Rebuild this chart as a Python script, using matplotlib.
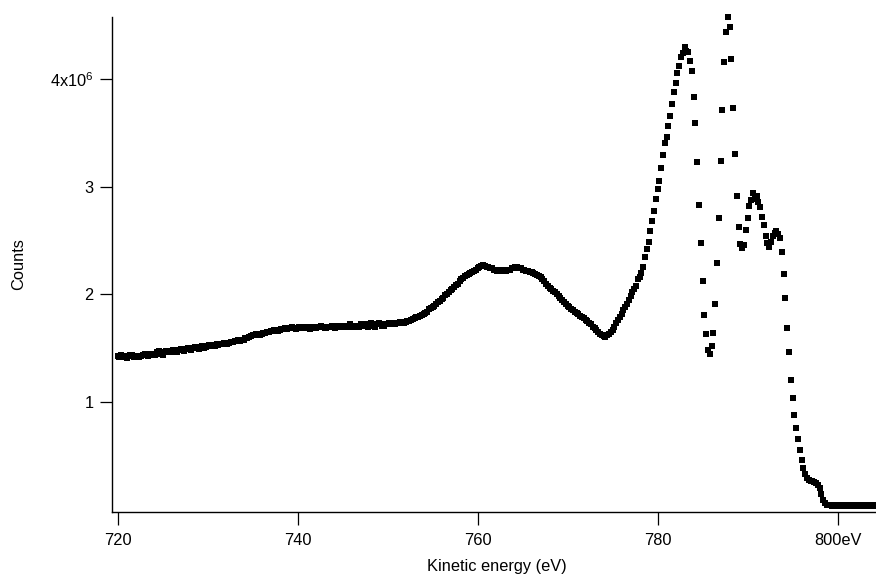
import numpy as np
import matplotlib
matplotlib.use('Agg')
import matplotlib.pyplot as plt

plt.rcParams['font.family'] = ['Liberation Sans', 'DejaVu Sans']
plt.rcParams['mathtext.fontset'] = 'custom'
plt.rcParams['mathtext.rm'] = 'Liberation Sans'
plt.rcParams['mathtext.default'] = 'regular'

# spectrum sampled every 0.2 eV from 720.0 eV, counts in units of 1e6
e_start = 720.0
e_step = 0.2

# 720.0 .. 776.4 eV : broad background and the 760 eV hump
counts_lo = [
    1.43, 1.42, 1.44, 1.43, 1.42, 1.41, 1.43, 1.44, 1.44, 1.42, 1.43, 1.42, 1.42, 1.43, 1.44, 1.45, 1.45, 1.43, 1.44, 1.45,
    1.45, 1.44, 1.46, 1.47, 1.45, 1.44, 1.46, 1.47, 1.47, 1.46, 1.46, 1.48, 1.47, 1.46, 1.48, 1.49, 1.48, 1.47, 1.49, 1.50,
    1.49, 1.48, 1.50, 1.51, 1.50, 1.49, 1.51, 1.52, 1.50, 1.51, 1.52, 1.53, 1.53, 1.52, 1.52, 1.54, 1.53, 1.54, 1.54, 1.55,
    1.55, 1.54, 1.55, 1.56, 1.56, 1.57, 1.57, 1.58, 1.57, 1.58, 1.58, 1.59, 1.59, 1.60, 1.61, 1.62, 1.62, 1.63, 1.63, 1.62,
    1.63, 1.64, 1.64, 1.65, 1.65, 1.66, 1.66, 1.67, 1.67, 1.66, 1.67, 1.68, 1.68, 1.69, 1.68, 1.69, 1.69, 1.70, 1.69, 1.68,
    1.69, 1.70, 1.70, 1.69, 1.69, 1.70, 1.69, 1.68, 1.70, 1.70, 1.69, 1.70, 1.70, 1.71, 1.70, 1.69, 1.69, 1.70, 1.70, 1.71,
    1.70, 1.69, 1.71, 1.70, 1.70, 1.71, 1.70, 1.70, 1.71, 1.72, 1.70, 1.71, 1.71, 1.70, 1.70, 1.72, 1.71, 1.72, 1.71, 1.70,
    1.72, 1.73, 1.71, 1.70, 1.72, 1.73, 1.72, 1.71, 1.71, 1.72, 1.72, 1.73, 1.73, 1.72, 1.72, 1.73, 1.73, 1.74, 1.74, 1.73,
    1.74, 1.75, 1.75, 1.76, 1.77, 1.78, 1.79, 1.79, 1.80, 1.81, 1.82, 1.83, 1.84, 1.86, 1.87, 1.88, 1.89, 1.91, 1.93, 1.94,
    1.96, 1.97, 1.99, 2.00, 2.02, 2.04, 2.05, 2.07, 2.09, 2.10, 2.12, 2.14, 2.15, 2.17, 2.18, 2.19, 2.20, 2.21, 2.22, 2.23,
    2.24, 2.25, 2.26, 2.27, 2.26, 2.25, 2.25, 2.24, 2.24, 2.23, 2.23, 2.22, 2.22, 2.23, 2.23, 2.22, 2.22, 2.23, 2.23, 2.24,
    2.24, 2.25, 2.25, 2.24, 2.24, 2.23, 2.23, 2.22, 2.22, 2.21, 2.21, 2.20, 2.19, 2.18, 2.17, 2.16, 2.14, 2.12, 2.10, 2.08,
    2.06, 2.05, 2.03, 2.02, 2.00, 1.98, 1.97, 1.95, 1.93, 1.91, 1.89, 1.88, 1.86, 1.85, 1.84, 1.83, 1.82, 1.80, 1.79, 1.78,
    1.76, 1.75, 1.73, 1.72, 1.70, 1.69, 1.67, 1.65, 1.63, 1.62, 1.61, 1.60, 1.62, 1.63, 1.65, 1.67, 1.70, 1.73, 1.76, 1.79,
    1.82, 1.85, 1.88,
]

# 776.6 .. 804.2 eV : main peaks and the cut-off
counts_hi = [
    1.91, 1.95,
    1.98, 2.02, 2.05, 2.08, 2.14, 2.16, 2.20, 2.25, 2.35, 2.42,
    2.49, 2.59, 2.68, 2.77, 2.89, 2.98, 3.05, 3.17, 3.29, 3.41,
    3.46, 3.56, 3.66, 3.77, 3.88, 3.96, 4.06, 4.12, 4.20, 4.24,
    4.30, 4.26, 4.25, 4.17, 4.07, 3.83, 3.59, 3.23, 2.83, 2.48,
    2.12, 1.81, 1.63, 1.48, 1.45, 1.52, 1.64, 1.91, 2.29, 2.71,
    3.24, 3.71, 4.16, 4.44, 4.58, 4.48, 4.19, 3.73, 3.30, 2.91,
    2.63, 2.47, 2.43, 2.46, 2.60, 2.71, 2.82, 2.88, 2.94, 2.89,
    2.91, 2.86, 2.81, 2.72, 2.64, 2.54, 2.48, 2.44, 2.49, 2.54,
    2.57, 2.59, 2.56, 2.52, 2.39, 2.19, 1.97, 1.69, 1.46, 1.20,
    1.04, 0.88, 0.76, 0.66, 0.55, 0.46, 0.39, 0.33, 0.29, 0.28,
    0.27, 0.27, 0.26, 0.25, 0.23, 0.20, 0.15, 0.09, 0.06, 0.045,
    0.04, 0.04, 0.035, 0.04, 0.04, 0.035, 0.04, 0.04, 0.035, 0.04,
    0.04, 0.035, 0.04, 0.04, 0.035, 0.04, 0.04, 0.035, 0.04, 0.04,
    0.035, 0.04, 0.04, 0.035, 0.04, 0.04, 0.035,
]

x_ticks = [720, 740, 760, 780, 800]
x_tick_labels = ['720', '740', '760', '780', '800eV']
y_ticks = [1e6, 2e6, 3e6, 4e6]
y_tick_labels = ['1', '2', '3', '4x10$^{6}$']

counts = np.array(counts_lo + counts_hi) * 1e6
energy = e_start + e_step * np.arange(len(counts))

fig = plt.figure(figsize=(8.76, 5.76), dpi=100)
ax = fig.add_axes([112 / 876, 1 - 512 / 576, 1 - 112 / 876, (512 - 17) / 576])

ax.plot(energy, counts, ls='none', marker='s', ms=4.4, mew=0,
        color='black', clip_on=False)

ax.set_xlim(719.37, 804.26)
ax.set_ylim(-0.0217e6, 4.576e6)

ax.spines['top'].set_visible(False)
ax.spines['right'].set_visible(False)
for s in ['left', 'bottom']:
    ax.spines[s].set_linewidth(1.0)
    ax.spines[s].set_color('black')

ax.set_xticks(x_ticks)
ax.set_xticklabels(x_tick_labels)
ax.set_yticks(y_ticks)
ax.set_yticklabels(y_tick_labels)
ax.tick_params(axis='both', direction='out', length=9, width=0.9,
               labelsize=11.8, color='black')
ax.tick_params(axis='x', pad=6)
ax.tick_params(axis='y', pad=4.5)

ax.set_xlabel('Kinetic energy (eV)', fontsize=11.8)
ax.set_ylabel('Counts', fontsize=11.8)
ax.xaxis.set_label_coords(0.504, -0.095)
ax.yaxis.set_label_coords(-0.112, 0.5)

fig.savefig('out.png', dpi=100)
